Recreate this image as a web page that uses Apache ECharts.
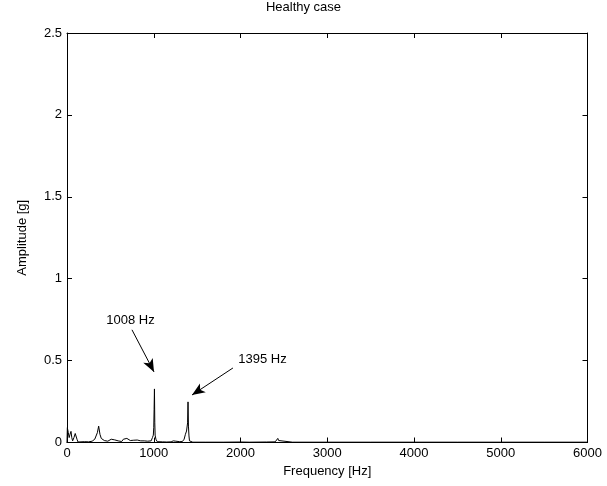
<!DOCTYPE html>
<html>
<head>
<meta charset="utf-8">
<script src="https://cdn.jsdelivr.net/npm/echarts@6/dist/echarts.min.js"></script>
<style>
  html, body { margin: 0; padding: 0; background: #fff; }
  #chart { width: 607px; height: 486px; }
</style>
</head>
<body>
<div id="chart"></div>
<script>
// Amplitude spectrum of the healthy machine
const frequencyHz = [0, 4, 8, 15, 25, 35, 46, 55, 65, 80, 95, 104, 115, 127, 150, 200, 250, 290, 305, 320, 335, 350, 365, 380, 395, 410, 430, 450, 470, 490, 510, 530, 550, 570, 590, 610, 630, 650, 670, 690, 710, 730, 750, 770, 790, 810, 830, 850, 870, 890, 910, 930, 950, 970, 985, 995, 1000, 1004, 1008, 1012, 1016, 1025, 1040, 1060, 1100, 1150, 1200, 1225, 1240, 1255, 1270, 1300, 1330, 1350, 1365, 1378, 1385, 1390, 1395, 1400, 1406, 1412, 1425, 1450, 1600, 1800, 2000, 2100, 2300, 2400, 2420, 2430, 2440, 2460, 2600, 3000, 3500, 4000, 4500, 5000, 5500, 6000];
const amplitudeG = [0.0, 0.09, 0.085, 0.06, 0.03, 0.05, 0.068, 0.03, 0.01, 0.03, 0.055, 0.06, 0.02, 0.003, 0.004, 0.005, 0.004, 0.008, 0.015, 0.02, 0.03, 0.06, 0.1, 0.05, 0.025, 0.02, 0.012, 0.018, 0.008, 0.015, 0.02, 0.01, 0.016, 0.008, 0.01, 0.012, 0.006, 0.02, 0.015, 0.025, 0.018, 0.012, 0.022, 0.014, 0.01, 0.015, 0.008, 0.01, 0.006, 0.01, 0.005, 0.008, 0.004, 0.01, 0.03, 0.045, 0.09, 0.2, 0.327, 0.12, 0.045, 0.02, 0.005, 0.003, 0.004, 0.003, 0.004, 0.01, 0.02, 0.008, 0.004, 0.005, 0.006, 0.02, 0.05, 0.07, 0.08, 0.12, 0.248, 0.1, 0.04, 0.01, 0.003, 0.002, 0.002, 0.002, 0.003, 0.002, 0.003, 0.004, 0.015, 0.025, 0.012, 0.003, 0.002, 0.002, 0.002, 0.002, 0.002, 0.002, 0.002, 0.002];

// Labelled peaks: text, label anchor, arrow tail and arrow tip (data units)
const peakLabels = ['1008 Hz', '1395 Hz'];
const labelAnchor = [[732, 0.743], [2254, 0.51]];
const arrowTail = [[749, 0.688], [1913, 0.455]];
const arrowTip = [[1003, 0.431], [1441, 0.29]];

const xTicks = { min: 0, max: 6000, interval: 1000 };
const yTicks = { min: 0, max: 2.5, interval: 0.5 };

const FONT = 'Liberation Sans, Arial, sans-serif';
const FS = 13;
const axisLine = { show: true, onZero: false, lineStyle: { color: '#000', width: 1 } };
const tickIn = { show: true, inside: true, length: 5, lineStyle: { color: '#000' } };

const chart = echarts.init(document.getElementById('chart'));
chart.setOption({
  animation: false,
  backgroundColor: '#fff',
  title: {
    text: 'Healthy case',
    left: 'center', top: 1, padding: 0,
    textStyle: { fontFamily: FONT, fontSize: FS, fontWeight: 'normal', color: '#000' }
  },
  grid: { left: 67, right: 19.5, top: 33, bottom: 43.5, containLabel: false },
  xAxis: [
    {
      type: 'value', position: 'bottom', ...xTicks,
      axisLine, axisTick: tickIn, splitLine: { show: false },
      axisLabel: { color: '#000', fontFamily: FONT, fontSize: FS, margin: 4, formatter: v => String(v) },
      name: 'Frequency [Hz]', nameLocation: 'middle', nameGap: 22,
      nameTextStyle: { color: '#000', fontFamily: FONT, fontSize: FS }
    },
    {
      type: 'value', position: 'top', ...xTicks,
      axisLine, axisTick: tickIn, splitLine: { show: false },
      axisLabel: { show: false }
    }
  ],
  yAxis: [
    {
      type: 'value', position: 'left', ...yTicks,
      axisLine, axisTick: tickIn, splitLine: { show: false },
      axisLabel: { color: '#000', fontFamily: FONT, fontSize: FS, margin: 5, formatter: v => String(v) },
      name: 'Amplitude [g]', nameLocation: 'middle', nameGap: 38,
      nameTextStyle: { color: '#000', fontFamily: FONT, fontSize: FS }
    },
    {
      type: 'value', position: 'right', ...yTicks,
      axisLine, axisTick: tickIn, splitLine: { show: false },
      axisLabel: { show: false }
    }
  ],
  series: [
    {
      type: 'line',
      data: frequencyHz.map((f, i) => [f, amplitudeG[i]]),
      showSymbol: false,
      lineStyle: { color: '#000', width: 1 },
      silent: true,
      markLine: {
        silent: true,
        symbol: ['none', 'arrow'],
        symbolSize: [8, 13],
        label: { show: false },
        lineStyle: { color: '#000', width: 1, type: 'solid' },
        itemStyle: { color: '#000' },
        data: arrowTail.map((p, i) => [{ coord: p }, { coord: arrowTip[i] }])
      },
      markPoint: {
        silent: true,
        symbol: 'circle',
        symbolSize: 0,
        label: {
          show: true, position: 'inside', color: '#000',
          fontFamily: FONT, fontSize: FS,
          formatter: p => p.name
        },
        data: peakLabels.map((t, i) => ({ name: t, coord: labelAnchor[i] }))
      }
    }
  ]
});
</script>
</body>
</html>
